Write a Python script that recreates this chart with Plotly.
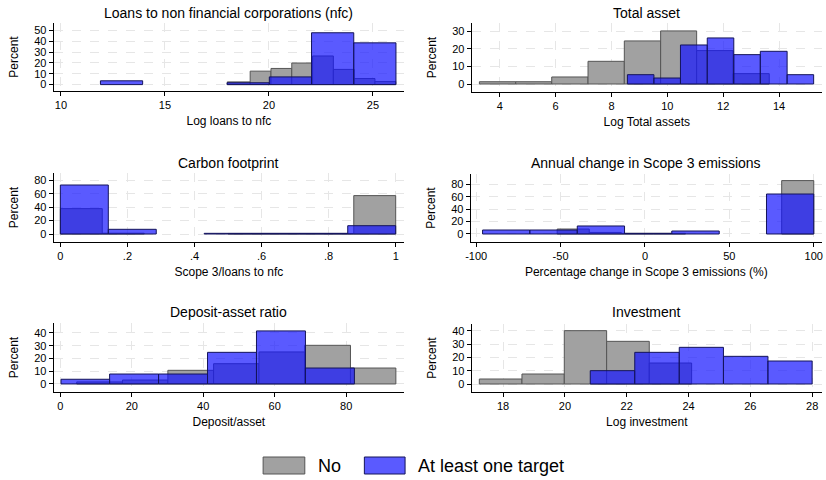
import plotly.graph_objects as go

# ---------------- data ----------------
titles = ["Loans to non financial corporations (nfc)", "Total asset",
          "Carbon footprint", "Annual change in Scope 3 emissions",
          "Deposit-asset ratio", "Investment"]
xtitles = ["Log loans to nfc", "Log Total assets", "Scope 3/loans to nfc",
           "Percentage change in Scope 3 emissions (%)", "Deposit/asset", "Log investment"]

# Panel 1: loans
p1_no_edges = [18.0, 19.1, 20.1, 21.1, 22.1, 23.1, 24.1, 25.1, 26.1]
p1_no_pct = [2.5, 12.4, 14.9, 19.9, 26.4, 14.0, 5.6, 2.8]
p1_tg_edges = [11.9, 13.93, 15.96, 17.99, 20.02, 22.05, 24.08, 26.11]
p1_tg_pct = [3.5, None, None, 1.7, 7.1, 47.8, 38.5]

# Panel 2: total assets
p2_no_edges = [3.27, 4.57, 5.86, 7.16, 8.46, 9.76, 11.05, 12.35, 13.65]
p2_no_pct = [1.3, 1.3, 4.0, 12.9, 24.5, 30.2, 19.0, 5.9]
p2_tg_edges = [8.57, 9.52, 10.47, 11.43, 12.38, 13.33, 14.29, 15.24]
p2_tg_pct = [5.3, 3.4, 22.2, 26.2, 16.7, 18.6, 5.3]

# Panel 3: carbon footprint
p3_no_edges = [0.0, 0.125, 0.25, 0.375, 0.5, 0.625, 0.75, 0.875, 1.0]
p3_no_pct = [37.8, 1.2, None, None, 0.8, 0.8, 0.8, 57.2]
p3_tg_edges = [0.0, 0.143, 0.286, 0.429, 0.571, 0.714, 0.857, 1.0]
p3_tg_pct = [73.0, 7.0, None, 1.0, 1.0, 1.0, 12.4]

# Panel 4: annual change in scope 3
p4_no_edges = [-90, -71, -52, -33, -14, 5, 24, 43, 62, 81, 100]
p4_no_pct = [None, None, 8.0, 2.5, 1.0, 1.0, None, None, None, 86.0]
p4_tg_edges = [-96.2, -68.2, -40.1, -12.1, 15.9, 44.0, 72.0, 100.0]
p4_tg_pct = [6.4, 6.4, 12.9, 1.0, 4.8, None, 64.4]

# Panel 5: deposit-asset ratio
p5_no_edges = [4.6, 17.4, 30.1, 42.9, 55.6, 68.4, 81.2, 93.9]
p5_no_pct = [1.6, 3.1, 10.7, 15.9, 25.1, 30.3, 12.5]
p5_tg_edges = [0.2, 13.8, 27.5, 41.2, 54.9, 68.6, 82.3]
p5_tg_pct = [3.7, 7.8, 7.8, 24.8, 41.6, 12.5]

# Panel 6: investment
p6_no_edges = [17.23, 18.61, 19.98, 21.35, 22.73, 24.1]
p6_no_pct = [3.75, 7.5, 40.0, 32.0, 15.75]
p6_tg_edges = [20.82, 22.26, 23.7, 25.13, 26.57, 28.0]
p6_tg_pct = [10.0, 23.75, 27.5, 20.75, 17.25]

xticks = [[10, 15, 20, 25], [4, 6, 8, 10, 12, 14], [0, 0.2, 0.4, 0.6, 0.8, 1],
          [-100, -50, 0, 50, 100], [0, 20, 40, 60, 80], [18, 20, 22, 24, 26, 28]]
xticklabels = [["10", "15", "20", "25"], ["4", "6", "8", "10", "12", "14"],
               ["0", ".2", ".4", ".6", ".8", "1"], ["-100", "-50", "0", "50", "100"],
               ["0", "20", "40", "60", "80"], ["18", "20", "22", "24", "26", "28"]]
yticks = [[0, 10, 20, 30, 40, 50], [0, 10, 20, 30], [0, 20, 40, 60, 80],
          [0, 20, 40, 60, 80], [0, 10, 20, 30, 40], [0, 10, 20, 30, 40]]
legend_labels = ["No", "At least one target"]

panels = [
    (p1_no_edges, p1_no_pct, p1_tg_edges, p1_tg_pct),
    (p2_no_edges, p2_no_pct, p2_tg_edges, p2_tg_pct),
    (p3_no_edges, p3_no_pct, p3_tg_edges, p3_tg_pct),
    (p4_no_edges, p4_no_pct, p4_tg_edges, p4_tg_pct),
    (p5_no_edges, p5_no_pct, p5_tg_edges, p5_tg_pct),
    (p6_no_edges, p6_no_pct, p6_tg_edges, p6_tg_pct),
]

# ---------------- layout geometry (pixels) ----------------
W, H = 826, 480
xranges = [[9.65, 26.5], [2.99, 15.54], [-0.02, 1.025], [-103.3, 104.9], [-1.86, 96.2], [16.98, 28.32]]
yranges = [[-5.9, 56.8], [-4.55, 34.7], [-11.9, 90.9], [-12.9, 96.6], [-6.3, 47.8], [-6.0, 45.0]]
# (left, right, top, bottom) pixel boxes of the plot regions
boxes = [(49, 402, 23, 91), (470, 823, 23, 92),
         (49, 402, 173, 242), (469, 823, 174, 242),
         (49, 402, 323, 392), (470, 823, 324, 392)]
title_y = [13, 13, 163, 163, 312, 312]

GRAY = "rgb(161,161,161)"
GRAY_LINE = "rgb(85,85,85)"
BLUE = "rgba(20,20,255,0.7)"
BLUE_LINE = "rgb(20,20,90)"
FONT = "Liberation Sans, Arial, sans-serif"

fig = go.Figure()
layout = dict(
    width=W, height=H, margin=dict(l=0, r=0, t=0, b=0),
    paper_bgcolor="white", plot_bgcolor="white",
    barmode="overlay", showlegend=False,
    font=dict(family=FONT, size=12, color="black"),
    annotations=[], shapes=[],
)

def centers_widths(edges):
    c = [(edges[i] + edges[i + 1]) / 2 for i in range(len(edges) - 1)]
    w = [edges[i + 1] - edges[i] for i in range(len(edges) - 1)]
    return c, w

for i, (ne, npct, te, tpct) in enumerate(panels):
    k = "" if i == 0 else str(i + 1)
    xa, ya = "x" + k, "y" + k
    nc, nw = centers_widths(ne)
    tc, tw = centers_widths(te)
    fig.add_trace(go.Bar(x=nc, y=npct, width=nw, xaxis=xa, yaxis=ya,
                         marker=dict(color=GRAY, line=dict(color=GRAY_LINE, width=1)),
                         name=legend_labels[0], hoverinfo="skip"))
    fig.add_trace(go.Bar(x=tc, y=tpct, width=tw, xaxis=xa, yaxis=ya,
                         marker=dict(color=BLUE, line=dict(color=BLUE_LINE, width=1)),
                         name=legend_labels[1], hoverinfo="skip"))
    l, r, t, b = boxes[i]
    axcommon = dict(showline=True, linecolor="black", linewidth=1, ticks="outside",
                    ticklen=4, tickcolor="black", showgrid=True, gridcolor="rgb(230,230,230)",
                    griddash="dash", gridwidth=1, zeroline=False,
                    tickfont=dict(family=FONT, size=11, color="black"), fixedrange=True)
    layout["xaxis" + k] = dict(axcommon, domain=[l / W, r / W], anchor=ya, range=xranges[i],
                               tickvals=xticks[i], ticktext=xticklabels[i],
                               title=dict(text=xtitles[i], standoff=6,
                                          font=dict(family=FONT, size=12, color="black")))
    layout["yaxis" + k] = dict(axcommon, domain=[1 - b / H, 1 - t / H], anchor=xa, range=yranges[i],
                               tickvals=yticks[i],
                               title=dict(text="Percent", standoff=12,
                                          font=dict(family=FONT, size=12, color="black")))
    layout["annotations"].append(dict(text=titles[i], xref="paper", yref="paper",
                                      x=(l + r) / 2 / W, y=1 - title_y[i] / H,
                                      xanchor="center", yanchor="middle", showarrow=False,
                                      font=dict(family=FONT, size=14, color="black")))

# legend drawn as keys + text below the panels
leg_keys = [(260, 302, GRAY, GRAY_LINE, 313), (362, 403, "rgb(90,90,255)", BLUE_LINE, 414)]
for (x0, x1, fc, lc, tx), lab in zip(leg_keys, legend_labels):
    layout["shapes"].append(dict(type="rect", xref="paper", yref="paper",
                                 x0=x0 / W, x1=x1 / W, y0=1 - 474 / H, y1=1 - 457 / H,
                                 fillcolor=fc, line=dict(color=lc, width=1)))
    layout["annotations"].append(dict(text=lab, xref="paper", yref="paper",
                                      x=tx / W, y=1 - 465.5 / H, xanchor="left", yanchor="middle",
                                      showarrow=False,
                                      font=dict(family=FONT, size=18, color="black")))

fig.update_layout(**layout)
fig.write_html("out.html", config={"displayModeBar": False, "staticPlot": True},
               post_script="document.body.style.margin='0';document.body.style.padding='0';"
                           "document.body.style.overflow='hidden';")
